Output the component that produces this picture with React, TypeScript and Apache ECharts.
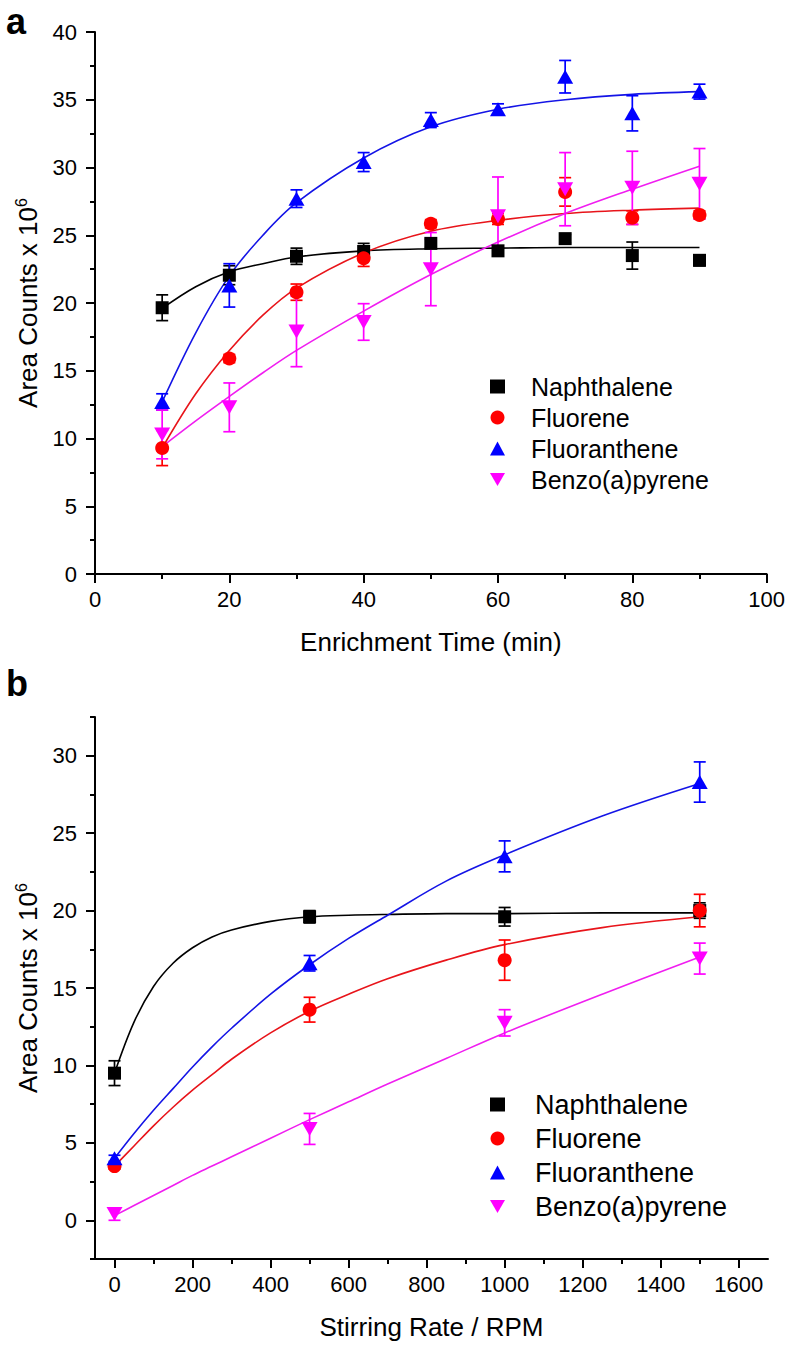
import React, { useEffect, useRef } from 'react';
import * as echarts from 'echarts';

// ---------- shared ----------
const seriesNames = ['Naphthalene', 'Fluorene', 'Fluoranthene', 'Benzo(a)pyrene'];
const markerColors = ['#000000', '#ff0000', '#0000ff', '#ff00ff'];
const fitColors = ['#000000', '#e8141a', '#1414e6', '#f01ef0'];

// ---------- panel a : enrichment time ----------
const timeMin = [10, 20, 30, 40, 50, 60, 70, 80, 90];
const aNaph = [19.65, 22.05, 23.45, 23.8, 24.4, 23.85, 24.75, 23.5, 23.15];
const aNaphErr = [0.95, 0.7, 0.6, 0.6, 0.3, 0.3, 0.3, 1.0, 0.4];
const aFluorene = [9.3, 15.9, 20.8, 23.3, 25.85, 26.2, 28.2, 26.3, 26.5];
const aFluoreneErr = [1.3, 0.3, 0.6, 0.6, 0.3, 0.4, 1.05, 0.5, 0.3];
const aFluoranthene = [12.7, 21.3, 27.7, 30.4, 33.5, 34.3, 36.7, 34.0, 35.6];
const aFluorantheneErr = [0.6, 1.6, 0.65, 0.7, 0.55, 0.4, 1.2, 1.3, 0.55];
const aBenzo = [10.3, 12.3, 17.9, 18.6, 22.5, 26.4, 28.4, 28.5, 28.8];
const aBenzoErr = [1.8, 1.8, 2.6, 1.35, 2.7, 2.9, 2.7, 2.7, 2.6];

const aFitX = [10, 15, 20, 25, 30, 40, 50, 60, 70, 80, 90];
const aFitNaph = [19.6, 21.2, 22.3, 22.9, 23.4, 23.85, 24.0, 24.05, 24.1, 24.1, 24.1];
const aFitFluorene = [9.3, 13.3, 16.5, 19.1, 21.1, 23.7, 25.3, 26.1, 26.6, 26.85, 27.0];
const aFitFluoranthene = [12.7, 17.8, 22.0, 25.0, 27.4, 30.7, 33.0, 34.3, 35.0, 35.4, 35.6];
const aFitBenzo = [9.4, 11.3, 13.1, 14.85, 16.5, 19.4, 22.1, 24.5, 26.6, 28.4, 30.1];

// ---------- panel b : stirring rate ----------
const rpm = [0, 500, 1000, 1500];
const bNaph = [9.5, 19.6, 19.6, 20.0];
const bNaphErr = [0.8, 0.4, 0.6, 0.5];
const bFluorene = [3.5, 13.6, 16.8, 20.0];
const bFluoreneErr = [0.2, 0.8, 1.3, 1.05];
const bFluoranthene = [4.0, 16.6, 23.5, 28.3];
const bFluorantheneErr = [0.2, 0.5, 1.0, 1.3];
const bBenzo = [0.4, 5.9, 12.75, 16.9];
const bBenzoErr = [0.4, 1.0, 0.85, 1.0];

const bFitX = [0, 50, 100, 150, 200, 250, 300, 400, 500, 600, 700, 850, 1000, 1250, 1500];
const bFitNaph = [9.5, 12.8, 15.1, 16.6, 17.6, 18.3, 18.75, 19.3, 19.6, 19.7, 19.75, 19.8, 19.8, 19.85, 19.85];
const bFitFluorene = [3.5, 4.8, 6.1, 7.3, 8.4, 9.4, 10.4, 12.1, 13.5, 14.6, 15.6, 16.8, 17.8, 18.9, 19.6];
const bFitFluoranthene = [4.0, 5.6, 7.1, 8.5, 9.9, 11.2, 12.4, 14.6, 16.5, 18.2, 19.7, 21.9, 23.6, 26.1, 28.2];
const bFitBenzo = [0.3, 0.95, 1.6, 2.25, 2.9, 3.5, 4.1, 5.3, 6.5, 7.65, 8.8, 10.45, 12.1, 14.6, 17.0];

// tick values
const bRpmTicks = [0, 200, 400, 600, 800, 1000, 1200, 1400, 1600];
const bRpmMinorTicks = [100, 300, 500, 700, 900, 1100, 1300, 1500];
const bCountTicks = [0, 5, 10, 15, 20, 25, 30];
const bCountMinorTicks = [-2.5, 2.5, 7.5, 12.5, 17.5, 22.5, 27.5, 32.5];

const FONT = "'Liberation Sans', Arial, Helvetica, sans-serif";
const downTriangle = 'path://M0,0 L20,0 L10,17.3 Z';
const symbols = ['rect', 'circle', 'triangle', downTriangle];
const symbolSizes: any[] = [13, 14, [16, 14], [16, 14]];

function errorBars(xs: number[], ys: number[], errs: number[], color: string, axis: number) {
  return {
    type: 'custom',
    xAxisIndex: axis,
    yAxisIndex: axis,
    silent: true,
    z: 3,
    dimensions: ['x', 'lo', 'hi'],
    encode: { x: 0, y: [1, 2] },
    data: xs.map((x, i) => [x, ys[i] - errs[i], ys[i] + errs[i]]),
    renderItem: (params: any, api: any) => {
      const x = api.value(0);
      const lo = api.coord([x, api.value(1)]);
      const hi = api.coord([x, api.value(2)]);
      const hw = 6;
      const style = { stroke: color, lineWidth: 1.7, fill: 'none' };
      return {
        type: 'group',
        children: [
          { type: 'line', shape: { x1: lo[0], y1: lo[1], x2: hi[0], y2: hi[1] }, style },
          { type: 'line', shape: { x1: lo[0] - hw, y1: lo[1], x2: lo[0] + hw, y2: lo[1] }, style },
          { type: 'line', shape: { x1: hi[0] - hw, y1: hi[1], x2: hi[0] + hw, y2: hi[1] }, style },
        ],
      };
    },
  };
}

function fitLine(xs: number[], ys: number[], color: string, axis: number) {
  return {
    type: 'line',
    xAxisIndex: axis,
    yAxisIndex: axis,
    silent: true,
    z: 2,
    smooth: 0.35,
    showSymbol: false,
    symbol: 'none',
    lineStyle: { color, width: 1.6 },
    data: xs.map((x, i) => [x, ys[i]]),
  };
}

function scatter(i: number, xs: number[], ys: number[], axis: number) {
  return {
    type: 'scatter',
    name: seriesNames[i],
    xAxisIndex: axis,
    yAxisIndex: axis,
    z: 4,
    symbol: symbols[i],
    symbolSize: symbolSizes[i],
    itemStyle: { color: markerColors[i], opacity: 1 },
    data: xs.map((x, j) => [x, ys[j]]),
  };
}

const axisLineStyle = { color: '#000', width: 2 };
const labelStyle = { color: '#000', fontSize: 22, fontFamily: FONT, formatter: (v: number) => String(v) };
const nameStyle = {
  color: '#000',
  fontSize: 26,
  fontFamily: FONT,
  rich: {
    sup: { fontSize: 16, fontFamily: FONT, color: '#000', verticalAlign: 'top', lineHeight: 30 },
  },
};

export default function App() {
  const ref = useRef<HTMLDivElement>(null);

  useEffect(() => {
    document.body.style.margin = '0';
    if (!ref.current) return;
    const chart = echarts.init(ref.current, null, { renderer: 'svg' });

    const aValues = [aNaph, aFluorene, aFluoranthene, aBenzo];
    const aErrs = [aNaphErr, aFluoreneErr, aFluorantheneErr, aBenzoErr];
    const aFits = [aFitNaph, aFitFluorene, aFitFluoranthene, aFitBenzo];
    const bValues = [bNaph, bFluorene, bFluoranthene, bBenzo];
    const bErrs = [bNaphErr, bFluoreneErr, bFluorantheneErr, bBenzoErr];
    const bFits = [bFitNaph, bFitFluorene, bFitFluoranthene, bFitBenzo];

    const series: any[] = [];
    for (let i = 0; i < 4; i++) series.push(fitLine(aFitX, aFits[i], fitColors[i], 0));
    for (let i = 0; i < 4; i++) series.push(errorBars(timeMin, aValues[i], aErrs[i], markerColors[i], 0));
    for (let i = 0; i < 4; i++) series.push(scatter(i, timeMin, aValues[i], 0));
    for (let i = 0; i < 4; i++) series.push(fitLine(bFitX, bFits[i], fitColors[i], 1));
    for (let i = 0; i < 4; i++) series.push(errorBars(rpm, bValues[i], bErrs[i], markerColors[i], 1));
    for (let i = 0; i < 4; i++) series.push(scatter(i, rpm, bValues[i], 1));

    const option: any = {
      animation: false,
      backgroundColor: '#ffffff',
      grid: [
        { left: 95, top: 32, width: 673, height: 542 },
        { left: 95, top: 717, width: 673, height: 542 },
      ],
      xAxis: [
        {
          type: 'value', gridIndex: 0, min: 0, max: 100, interval: 20,
          axisLine: { show: true, onZero: false, lineStyle: axisLineStyle },
          axisTick: { show: true, length: 9, lineStyle: axisLineStyle },
          minorTick: { show: true, splitNumber: 2, length: 5, lineStyle: axisLineStyle },
          splitLine: { show: false },
          axisLabel: { ...labelStyle, margin: 14 },
          name: 'Enrichment Time (min)', nameLocation: 'middle', nameGap: 55,
          nameTextStyle: nameStyle,
        },
        {
          type: 'value', gridIndex: 1, min: -50, max: 1675, position: 'bottom',
          axisLine: { show: true, onZero: false, lineStyle: axisLineStyle },
          axisTick: { show: true, length: 9, lineStyle: axisLineStyle, customValues: bRpmTicks },
          splitLine: { show: false },
          axisLabel: { ...labelStyle, margin: 14, customValues: bRpmTicks },
          name: 'Stirring Rate / RPM', nameLocation: 'middle', nameGap: 55,
          nameTextStyle: nameStyle,
        },
        {
          type: 'value', gridIndex: 1, min: -50, max: 1675, position: 'bottom', offset: 0,
          axisLine: { show: false, onZero: false },
          axisTick: { show: true, length: 5, lineStyle: axisLineStyle, customValues: bRpmMinorTicks },
          splitLine: { show: false },
          axisLabel: { show: false },
        },
      ],
      yAxis: [
        {
          type: 'value', gridIndex: 0, min: 0, max: 40, interval: 5,
          axisLine: { show: true, onZero: false, lineStyle: axisLineStyle },
          axisTick: { show: true, length: 9, lineStyle: axisLineStyle },
          minorTick: { show: true, splitNumber: 2, length: 5, lineStyle: axisLineStyle },
          splitLine: { show: false },
          axisLabel: { ...labelStyle, margin: 18 },
          name: 'Area Counts x 10{sup|6}', nameLocation: 'middle', nameGap: 52,
          nameTextStyle: nameStyle,
        },
        {
          type: 'value', gridIndex: 1, min: -2.5, max: 32.5, position: 'left',
          axisLine: { show: true, onZero: false, lineStyle: axisLineStyle },
          axisTick: { show: true, length: 9, lineStyle: axisLineStyle, customValues: bCountTicks },
          splitLine: { show: false },
          axisLabel: { ...labelStyle, margin: 18, customValues: bCountTicks },
          name: 'Area Counts x 10{sup|6}', nameLocation: 'middle', nameGap: 52,
          nameTextStyle: nameStyle,
        },
        {
          type: 'value', gridIndex: 1, min: -2.5, max: 32.5, position: 'left', offset: 0,
          axisLine: { show: false, onZero: false },
          axisTick: { show: true, length: 5, lineStyle: axisLineStyle, customValues: bCountMinorTicks },
          splitLine: { show: false },
          axisLabel: { show: false },
        },
      ],
      legend: [
        {
          orient: 'vertical', left: 485, top: 369, itemWidth: 15, itemHeight: 14, itemGap: 6,
          data: seriesNames, selectedMode: false,
          textStyle: { color: '#000', fontSize: 25, fontFamily: FONT, lineHeight: 25, padding: [0, 0, 0, 21] },
        },
        {
          orient: 'vertical', left: 485, top: 1086, itemWidth: 15, itemHeight: 14, itemGap: 7,
          data: seriesNames.slice(0, 4), selectedMode: false,
          textStyle: { color: '#000', fontSize: 27, fontFamily: FONT, lineHeight: 27, padding: [0, 0, 0, 25] },
        },
      ],
      graphic: [
        {
          type: 'text', left: 6, top: 3,
          style: { text: 'a', fill: '#000', font: `bold 36px ${FONT}` },
        },
        {
          type: 'text', left: 6, top: 665,
          style: { text: 'b', fill: '#000', font: `bold 36px ${FONT}` },
        },
      ],
      series,
    };

    chart.setOption(option);
    return () => chart.dispose();
  }, []);

  return <div ref={ref} style={{ width: 788, height: 1346 }} />;
}
